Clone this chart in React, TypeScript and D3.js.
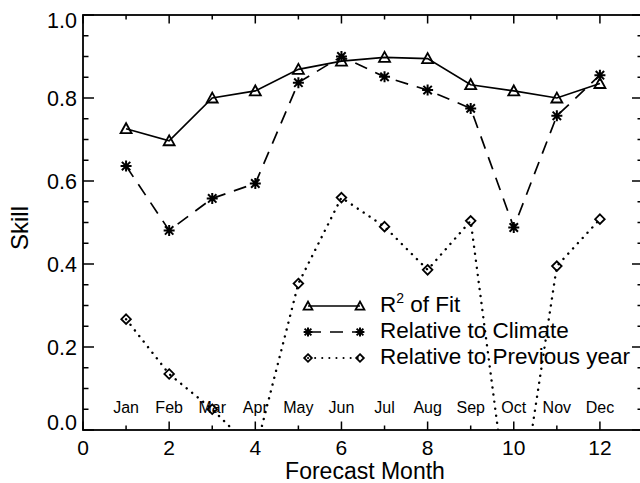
import React from 'react'
import * as d3 from 'd3'

// forecast skill per target month
const months = ["Jan", "Feb", "Mar", "Apr", "May", "Jun", "Jul", "Aug", "Sep", "Oct", "Nov", "Dec"]
const monthNum = [1, 2, 3, 4, 5, 6, 7, 8, 9, 10, 11, 12]
const r2Fit = [0.726, 0.697, 0.800, 0.817, 0.869, 0.889, 0.898, 0.895, 0.832, 0.817, 0.800, 0.835]
const relClimate = [0.636, 0.481, 0.558, 0.594, 0.837, 0.900, 0.851, 0.819, 0.775, 0.488, 0.757, 0.855]
const relPrevYear = [0.267, 0.135, 0.050, -0.053, 0.353, 0.560, 0.490, 0.386, 0.504, -0.290, 0.395, 0.508]
const xTickValues = [0, 2, 4, 6, 8, 10, 12]
const yTickValues = [0.0, 0.2, 0.4, 0.6, 0.8, 1.0]
const legendLabels = ["of Fit", "Relative to Climate", "Relative to Previous year"]

const W = 640, H = 483
const left = 83, right = 643, top = 15, bottom = 430
const font = "'Liberation Sans', Arial, Helvetica, sans-serif"

type Marker = 'tri' | 'star' | 'dia'

function Sym({ type, x, y, s = 1 }: { type: Marker, x: number, y: number, s?: number }) {
  const st = { fill: 'none', stroke: '#000', strokeWidth: 1.8 }
  if (type === 'tri') {
    const a = 5.5 * s
    return <path d={`M${x - a},${y + 4.5 * s}L${x + a},${y + 4.5 * s}L${x},${y - 5.5 * s}Z`} {...st} />
  }
  if (type === 'dia') {
    const a = 4.8 * s
    return <path d={`M${x},${y - a}L${x + a},${y}L${x},${y + a}L${x - a},${y}Z`} {...st} />
  }
  const a = 5.5 * s, b = 4.2 * s
  return (
    <path d={`M${x - a},${y}L${x + a},${y}M${x},${y - a}L${x},${y + a}M${x - b},${y - b}L${x + b},${y + b}M${x - b},${y + b}L${x + b},${y - b}`}
      {...st} strokeWidth={2} />
  )
}

const App = () => {
  const x = d3.scaleLinear().domain([0, 13]).range([left, right])
  const y = d3.scaleLinear().domain([0, 1]).range([bottom, top])

  const line = d3.line<number>().x((d, i) => x(monthNum[i])).y(d => y(d))

  const series = [
    { vals: r2Fit, sym: 'tri' as Marker, dash: undefined as string | undefined, w: 1.7 },
    { vals: relClimate, sym: 'star' as Marker, dash: '13 9', w: 1.7 },
    { vals: relPrevYear, sym: 'dia' as Marker, dash: '0.1 7', w: 2.4 },
  ]

  const xMinor = d3.range(0, 14, 1)
  const yMinor = d3.range(0, 1.0001, 0.05)
  const fmtY = d3.format('.1f')

  const legX1 = 308, legX2 = 360, legText = 380
  const legY = [306, 332, 358]

  return (
    <div style={{ position: 'absolute', left: 0, top: 0 }}>
      <svg width={W} height={H} style={{ display: 'block', background: '#fff' }} fontFamily={font}>
        <defs>
          <clipPath id="plot"><rect x={left} y={top} width={right - left} height={bottom - top} /></clipPath>
        </defs>

        {/* ticks */}
        <g stroke="#000" strokeWidth={1.5}>
          {xMinor.map(t => {
            const len = t % 2 === 0 ? 8.5 : 4.5
            return (
              <g key={'x' + t}>
                <line x1={x(t)} x2={x(t)} y1={bottom} y2={bottom - len} />
                <line x1={x(t)} x2={x(t)} y1={top} y2={top + len} />
              </g>
            )
          })}
          {yMinor.map((t, i) => {
            const len = i % 4 === 0 ? 11 : 5.5
            return (
              <g key={'y' + i}>
                <line x1={left} x2={left + len} y1={y(t)} y2={y(t)} />
                <line x1={right} x2={right - len} y1={y(t)} y2={y(t)} />
              </g>
            )
          })}
        </g>
        <rect x={left} y={top} width={right - left} height={bottom - top} fill="none" stroke="#000" strokeWidth={1.8} />

        {/* tick labels */}
        {yTickValues.map(t => (
          <text key={'yl' + t} x={77} y={Math.min(Math.max(y(t) + 7.5, top + 13), bottom)}
            textAnchor="end" fontSize={21.5}>{fmtY(t)}</text>
        ))}
        {xTickValues.map(t => (
          <text key={'xl' + t} x={x(t)} y={455} textAnchor="middle" fontSize={21}>{t}</text>
        ))}
        {months.map((m, i) => (
          <text key={m} x={x(monthNum[i])} y={413} textAnchor="middle" fontSize={16}>{m}</text>
        ))}

        <text x={365} y={478.5} textAnchor="middle" fontSize={23}>Forecast Month</text>
        <text transform="translate(28,228) rotate(-90)" textAnchor="middle" fontSize={24}>Skill</text>

        {/* series */}
        <g clipPath="url(#plot)">
          {series.map((s, k) => (
            <path key={k} d={line(s.vals) || ''} fill="none" stroke="#000" strokeWidth={s.w}
              strokeDasharray={s.dash} strokeLinecap={s.dash === '0.1 7' ? 'round' : 'butt'} />
          ))}
          {series.map((s, k) => s.vals.map((v, i) => (
            <Sym key={k + '-' + i} type={s.sym} x={x(monthNum[i])} y={y(v)} />
          )))}
        </g>

        {/* legend */}
        {series.map((s, k) => (
          <g key={'leg' + k}>
            <line x1={legX1} x2={legX2} y1={legY[k]} y2={legY[k]} stroke="#000" strokeWidth={s.w === 2.4 ? 2 : 1.5}
              strokeDasharray={s.dash} strokeLinecap={s.dash === '0.1 7' ? 'round' : 'butt'} />
            <Sym type={s.sym} x={legX1} y={legY[k]} s={0.8} />
            <Sym type={s.sym} x={legX2} y={legY[k]} s={0.8} />
            <text x={legText} y={legY[k] + 5.5} fontSize={22.5}>
              {k === 0 ? <>R<tspan fontSize={14} dy={-9}>2</tspan><tspan dy={9}> {legendLabels[0]}</tspan></> : legendLabels[k]}
            </text>
          </g>
        ))}
      </svg>
    </div>
  )
}

export default App
